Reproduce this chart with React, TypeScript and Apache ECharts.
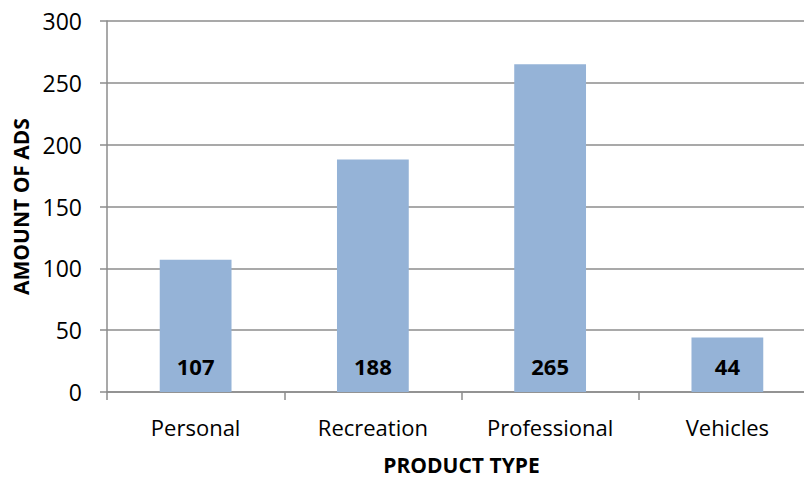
import React, { useEffect, useRef } from "react";
import * as echarts from "echarts";

const categories = ["Personal", "Recreation", "Professional", "Vehicles"];
const amounts = [107, 188, 265, 44];
const yTicks = [0, 50, 100, 150, 200, 250, 300];

const FONT = "'Open Sans', 'Noto Sans', sans-serif";
const GRID = "#8c8c8c";

export default function App() {
  const ref = useRef<HTMLDivElement>(null);
  useEffect(() => {
    if (!ref.current) return;
    const chart = echarts.init(ref.current, undefined, { renderer: "svg" });
    chart.setOption({
      animation: false,
      backgroundColor: "#ffffff",
      grid: { left: 107, right: -12, top: 21, bottom: 91, outerBoundsMode: "none", containLabel: false },
      xAxis: {
        type: "category",
        data: categories,
        name: "PRODUCT TYPE",
        nameLocation: "middle",
        nameGap: 62,
        nameTextStyle: { fontFamily: FONT, fontWeight: "bold", fontSize: 21, color: "#000" },
        axisLine: { show: true, lineStyle: { color: GRID, width: 1.5 } },
        axisTick: { show: true, alignWithLabel: false, length: 8, lineStyle: { color: GRID, width: 1.5 } },
        axisLabel: { fontFamily: FONT, fontSize: 22, color: "#000", margin: 24 },
      },
      yAxis: {
        type: "value",
        min: yTicks[0],
        max: yTicks[yTicks.length - 1],
        interval: 50,
        name: "AMOUNT OF ADS",
        nameLocation: "middle",
        nameGap: 72,
        nameRotate: 90,
        nameTextStyle: { fontFamily: FONT, fontWeight: "bold", fontSize: 21, color: "#000" },
        axisLine: { show: true, lineStyle: { color: GRID, width: 1.5 } },
        axisTick: { show: true, inside: false, length: 7, lineStyle: { color: GRID, width: 1.5 } },
        axisLabel: { fontFamily: FONT, fontSize: 23, color: "#000", margin: 25 },
        splitLine: { show: true, lineStyle: { color: GRID, width: 1.5 } },
      },
      series: [
        {
          type: "bar",
          data: amounts,
          barWidth: "40.5%",
          itemStyle: { color: "#95B3D7" },
          label: {
            show: true,
            position: "insideBottom",
            distance: 15,
            fontFamily: FONT,
            fontWeight: "bold",
            fontSize: 22,
            color: "#000",
          },
        },
      ],
    });
    return () => chart.dispose();
  }, []);
  return <div ref={ref} style={{ width: 804, height: 483, position: "absolute", left: 0, top: 0 }} />;
}
